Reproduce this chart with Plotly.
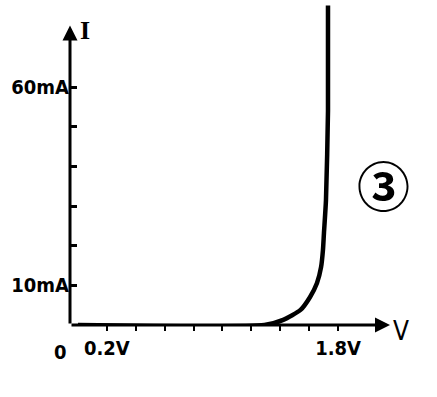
import plotly.graph_objects as go

# Diode I-V characteristic (sketch)
voltage_v = [0.0, 1.29, 1.42, 1.54, 1.605, 1.654, 1.682, 1.695, 1.702, 1.716, 1.73, 1.73]
current_ma = [0.0, 0.0, 1.3, 3.8, 7.0, 10.6, 14.6, 18.9, 23.2, 31.5, 54.0, 80.6]

x_tick_vals = [0.2, 0.4, 0.6, 0.8, 1.0, 1.2, 1.4, 1.6, 1.8]
x_tick_text = ["0.2V", "", "", "", "", "", "", "", "1.8V"]
y_tick_vals = [10, 20, 30, 40, 50, 60]
y_tick_text = ["10mA", "", "", "", "", "60mA"]

x_range = [-0.055, 2.159]
y_range = [0, 81]
y_axis_top = 75.6

label_font = dict(family="DejaVu Sans Condensed, Liberation Sans Narrow, sans-serif",
                  size=20, color="black", weight="bold")

fig = go.Figure()
fig.add_trace(go.Scatter(
    x=voltage_v, y=current_ma, mode="lines",
    line=dict(color="black", width=4.5, shape="spline", smoothing=0.6),
    hoverinfo="skip", showlegend=False, cliponaxis=False,
))

# axes with arrowheads
fig.add_annotation(x=x_range[0], y=y_axis_top, ax=x_range[0], ay=0,
                   xref="x", yref="y", axref="x", ayref="y",
                   showarrow=True, arrowhead=2, arrowsize=1, arrowwidth=3,
                   arrowcolor="black", text="")
fig.add_annotation(x=x_range[1], y=0, ax=x_range[0], ay=0,
                   xref="x", yref="y", axref="x", ayref="y",
                   showarrow=True, arrowhead=2, arrowsize=1, arrowwidth=3,
                   arrowcolor="black", text="")

# axis labels
fig.add_annotation(x=0, y=0, xref="paper", yref="paper", text="0",
                   showarrow=False, xanchor="right", yanchor="top",
                   xshift=-1, yshift=-13, font=label_font)
fig.add_annotation(x=1, y=0, xref="paper", yref="paper", text="V",
                   showarrow=False, xanchor="left", yanchor="middle",
                   xshift=1, yshift=-6,
                   font=dict(family="DejaVu Sans Condensed, sans-serif",
                             size=26, color="black"))
fig.add_annotation(x=0, y=y_axis_top, xref="paper", yref="y", text="<b>I</b>",
                   showarrow=False, xanchor="left", yanchor="middle",
                   xshift=8, yshift=-5,
                   font=dict(family="Liberation Serif, DejaVu Serif, serif", size=26, color="black"))
fig.add_annotation(x=1, y=0.44, xref="paper", yref="paper", text="③",
                   showarrow=False, xanchor="center", yanchor="middle",
                   xshift=-7,
                   font=dict(family="Noto Sans CJK JP, DejaVu Sans, sans-serif", size=53,
                             color="black", weight="bold"))

fig.update_layout(
    width=437, height=397,
    margin=dict(l=70, r=47, t=4, b=72),
    paper_bgcolor="white", plot_bgcolor="white",
    showlegend=False,
    xaxis=dict(range=x_range, showgrid=False, zeroline=False, showline=False,
               tickmode="array", tickvals=x_tick_vals, ticktext=x_tick_text,
               ticks="outside", ticklen=5, tickwidth=2, tickcolor="black",
               tickfont=label_font, fixedrange=True),
    yaxis=dict(range=y_range, showgrid=False, zeroline=False, showline=False,
               tickmode="array", tickvals=y_tick_vals, ticktext=y_tick_text,
               ticks="inside", ticklen=7, tickwidth=2.5, tickcolor="black",
               tickfont=label_font, fixedrange=True),
)

fig.write_html("out.html")
